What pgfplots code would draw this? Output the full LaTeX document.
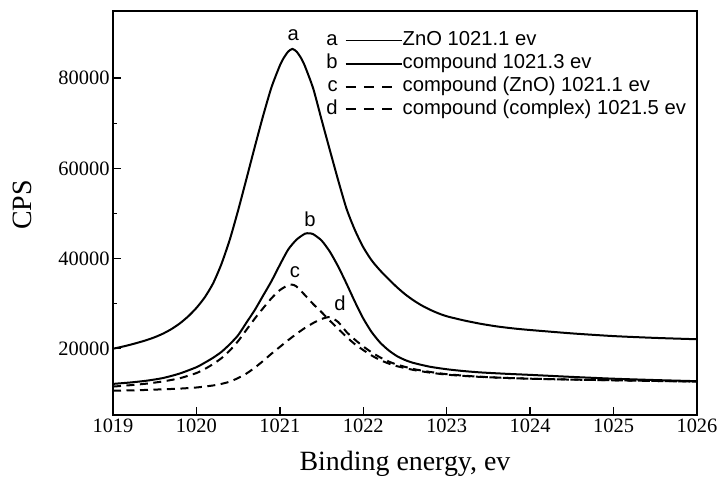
\documentclass[border=0pt]{standalone}
\usepackage{fontspec}
\setmainfont{Liberation Serif}
\newfontfamily\sansf{Liberation Sans}
\usepackage{pgfplots}
\pgfplotsset{compat=1.18}
\newcommand\legfont{\sansf\fontsize{20.3}{20.3}\selectfont}
\pgfplotsset{
  solidc/.style={black, line width=2bp, smooth, tension=0.4},
  dashc/.style={black, line width=2bp, smooth, tension=0.4, dash pattern=on 8bp off 5.5bp},
}
\pgfplotstableread{
x y
1019.0 20000
1019.1 20400
1019.2 20850
1019.3 21350
1019.4 21900
1019.5 22550
1019.6 23350
1019.7 24350
1019.8 25600
1019.9 27150
1020.0 29050
1020.1 31400
1020.2 34500
1020.3 38800
1020.4 44200
1020.5 50700
1020.6 57700
1020.7 64800
1020.8 71700
1020.9 78000
1021.0 82800
1021.05 84600
1021.1 85900
1021.15 86500
1021.2 85900
1021.25 84600
1021.3 82700
1021.4 77700
1021.5 70800
1021.6 64000
1021.7 57300
1021.8 51000
1021.9 46300
1022.0 42500
1022.1 39600
1022.2 37400
1022.3 35500
1022.4 33700
1022.5 32100
1022.6 30750
1022.7 29600
1022.8 28650
1022.9 27850
1023.0 27200
1023.2 26300
1023.4 25550
1023.6 24950
1023.8 24500
1024.0 24150
1024.5 23400
1025.0 22800
1025.5 22400
1026.0 22100
}\curveA
\pgfplotstableread{
x y
1019.0 12200
1019.2 12500
1019.4 12900
1019.6 13500
1019.8 14500
1020.0 15900
1020.1 16900
1020.2 18000
1020.3 19300
1020.4 21000
1020.5 23000
1020.6 25800
1020.7 28600
1020.8 31800
1020.9 35000
1021.0 38600
1021.1 42000
1021.2 44200
1021.3 45500
1021.35 45600
1021.4 45400
1021.5 44000
1021.6 41500
1021.7 38200
1021.8 34400
1021.9 30400
1022.0 26700
1022.1 23700
1022.2 21400
1022.3 19700
1022.4 18400
1022.5 17500
1022.6 16850
1022.8 16000
1023.0 15450
1023.2 15050
1023.4 14750
1023.7 14450
1024.0 14200
1024.5 13750
1025.0 13350
1025.5 13050
1026.0 12800
}\curveB
\pgfplotstableread{
x y
1019.0 11600
1019.2 11900
1019.4 12250
1019.6 12750
1019.8 13450
1020.0 14600
1020.1 15500
1020.2 16600
1020.3 17900
1020.4 19600
1020.5 21700
1020.6 24200
1020.7 26700
1020.8 29000
1020.9 31200
1021.0 33000
1021.1 34100
1021.15 34200
1021.2 33800
1021.3 31900
1021.4 29900
1021.5 28100
1021.6 26200
1021.7 24400
1021.8 22600
1021.9 21000
1022.0 19700
1022.1 18500
1022.2 17500
1022.3 16750
1022.4 16150
1022.6 15300
1022.8 14700
1023.0 14250
1023.3 13850
1023.6 13600
1024.0 13350
1024.5 13150
1025.0 13000
1025.5 12850
1026.0 12700
}\curveC
\pgfplotstableread{
x y
1019.0 10700
1019.3 10800
1019.6 11000
1019.8 11150
1020.0 11400
1020.2 11850
1020.3 12200
1020.4 12700
1020.5 13500
1020.6 14500
1020.7 15800
1020.8 17300
1020.9 18900
1021.0 20400
1021.1 21900
1021.2 23300
1021.3 24600
1021.4 25700
1021.5 26600
1021.6 27000
1021.7 25900
1021.8 23700
1021.9 22000
1022.0 20500
1022.1 19200
1022.2 18100
1022.3 17200
1022.4 16500
1022.6 15500
1022.8 14850
1023.0 14350
1023.3 13900
1023.6 13600
1024.0 13350
1024.5 13150
1025.0 13000
1025.5 12850
1026.0 12700
}\curveD
\begin{document}
\begin{tikzpicture}
\useasboundingbox (-113bp,-62bp) rectangle (606bp,415bp);
\begin{axis}[
  at={(0,0)}, anchor=south west,
  width=584bp, height=404bp, scale only axis,
  xmin=1019, xmax=1026, ymin=5300, ymax=94900,
  xtick={1019,1020,...,1026}, ytick={20000,40000,60000,80000},
  minor x tick num=1, minor y tick num=1,
  scaled y ticks=false, scaled x ticks=false,
  tick align=inside, xtick pos=bottom, ytick pos=left,
  major tick length=8.5bp, minor tick length=4.5bp,
  every tick/.style={black, line width=1.4bp},
  axis line style={line width=2bp},
  /pgf/number format/1000 sep={},
  /pgf/number format/assume math mode=true,
  tick label style={font=\fontsize{20.5}{20.5}\selectfont},
  label style={font=\fontsize{28}{28}\selectfont},
  xlabel={Binding energy, ev}, ylabel={CPS},
  xlabel style={at={(axis description cs:0.5,-0.121)}, anchor=center},
  ylabel style={at={(axis description cs:-0.155,0.52)}, anchor=center},
  legend style={draw=none, fill=none, at={(axis description cs:0.36,0.955)}, anchor=north west,
    font=\legfont, row sep=4.2bp, column sep=0bp,
    nodes={inner sep=0pt, text height=14bp, text depth=4.5bp}},
  legend cell align=left,
]
\addplot[solidc, legend image code/.code={\node[anchor=base east, inner sep=0pt, font=\legfont] at (-7bp,-5bp) {a}; \draw[black, line width=1.4bp] (0bp,0bp) -- (56bp,0bp);}]
table[x=x, y=y] {\curveA};
\addlegendentry{ZnO 1021.1 ev}
\addplot[solidc, legend image code/.code={\node[anchor=base east, inner sep=0pt, font=\legfont] at (-7bp,-5bp) {b}; \draw[black, line width=2bp] (0bp,0bp) -- (56bp,0bp);}]
table[x=x, y=y] {\curveB};
\addlegendentry{compound 1021.3 ev}
\addplot[dashc, legend image code/.code={\node[anchor=base east, inner sep=0pt, font=\legfont] at (-7bp,-5bp) {c}; \draw[black, line width=2bp, dash pattern=on 10bp off 8.3bp] (0bp,0bp) -- (48bp,0bp);}]
table[x=x, y=y] {\curveC};
\addlegendentry{compound (ZnO) 1021.1 ev}
\addplot[dashc, legend image code/.code={\node[anchor=base east, inner sep=0pt, font=\legfont] at (-7bp,-5bp) {d}; \draw[black, line width=2bp, dash pattern=on 10bp off 8.3bp] (0bp,0bp) -- (48bp,0bp); \path (56bp,0bp);}]
table[x=x, y=y] {\curveD};
\addlegendentry{compound (complex) 1021.5 ev}
\node[font=\legfont] at (axis cs:1021.16,89500) {a};
\node[font=\legfont] at (axis cs:1021.36,48800) {b};
\node[font=\legfont] at (axis cs:1021.18,36900) {c};
\node[font=\legfont] at (axis cs:1021.72,30000) {d};
\end{axis}
\end{tikzpicture}
\end{document}
